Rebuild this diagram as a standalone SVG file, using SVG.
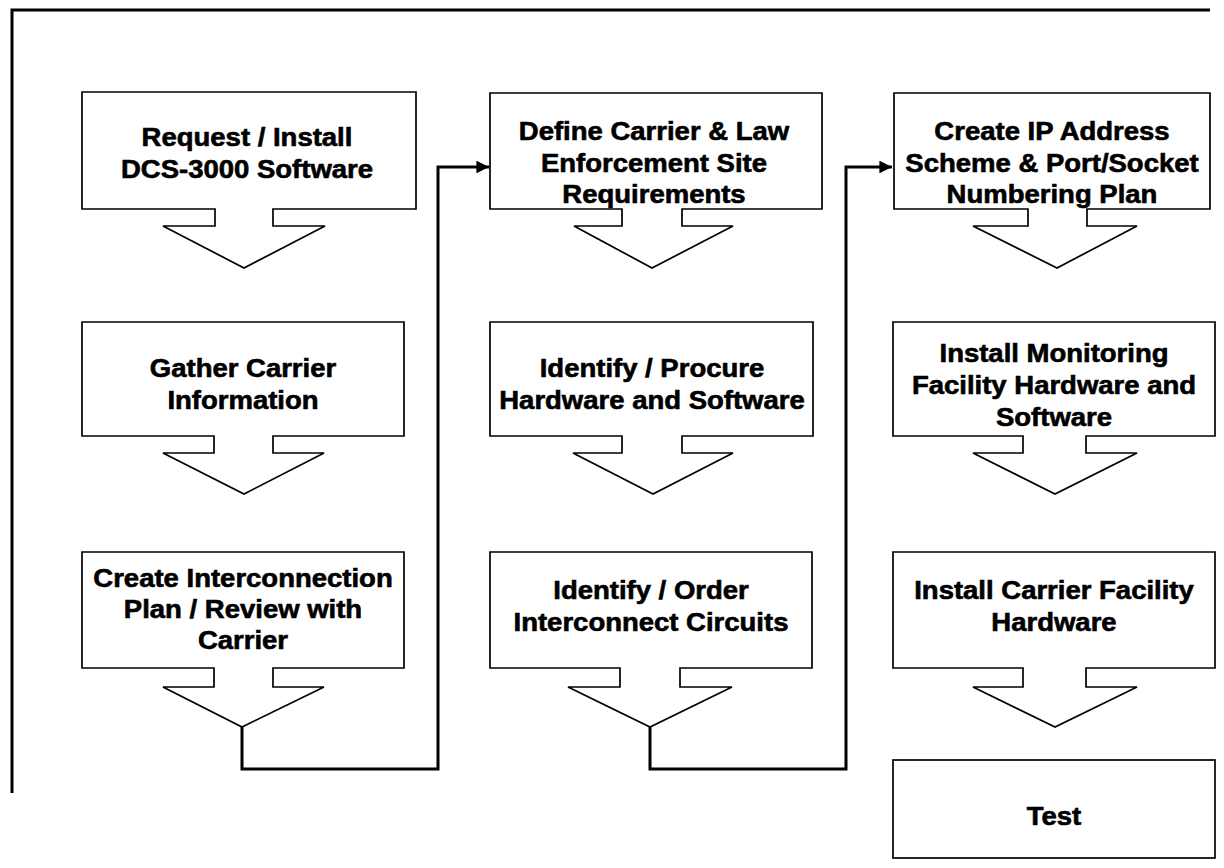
<svg xmlns="http://www.w3.org/2000/svg" width="1224" height="868" viewBox="0 0 1224 868">
  <style>
    .step { fill: #ffffff; stroke: #000000; stroke-width: 1.7; stroke-linejoin: miter; }
    .label { font-family: "Liberation Sans", Arial, sans-serif; font-weight: bold; font-size: 25px; fill: #000000; stroke: #000000; stroke-width: 0.6; text-anchor: middle; }
    .wire { fill: none; stroke: #000000; stroke-width: 3; stroke-linejoin: miter; }
  </style>
  <defs>
    <marker id="head" viewBox="0 0 10 10" refX="10" refY="5" markerWidth="4.8" markerHeight="4.2" orient="auto" markerUnits="strokeWidth">
      <path d="M0,0 L10,5 L0,10 Z" fill="#000000"/>
    </marker>
  </defs>
  <rect width="1224" height="868" fill="#ffffff"/>

  <!-- outer frame -->
  <path class="wire" d="M12,793 V10 H1210"/>

  <!-- column 1 -->
  <g id="request-install">
    <path class="step" d="M82,92 H416 V209 H273 V226 H325 L244,268 L163,226 H215 V209 H82 Z"/>
    <g transform="translate(247,0) scale(1.1,1)">
      <text class="label" x="0" y="146">Request / Install</text>
      <text class="label" x="0" y="178">DCS-3000 Software</text>
    </g>
  </g>
  <g id="gather-info">
    <path class="step" d="M82,322 H404 V436 H273 V453 H324 L244,494 L163,453 H214 V436 H82 Z"/>
    <g transform="translate(243,0) scale(1.1,1)">
      <text class="label" x="0" y="377">Gather Carrier</text>
      <text class="label" x="0" y="409">Information</text>
    </g>
  </g>
  <g id="interconnection-plan">
    <path class="step" d="M82,552 H404 V668 H273 V687 H324 L242,727 L163,687 H214 V668 H82 Z"/>
    <g transform="translate(243,0) scale(1.1,1)">
      <text class="label" x="0" y="587">Create Interconnection</text>
      <text class="label" x="0" y="618">Plan / Review with</text>
      <text class="label" x="0" y="649">Carrier</text>
    </g>
  </g>

  <!-- column 2 -->
  <g id="site-requirements">
    <path class="step" d="M490,93 H822 V209 H682 V226 H733 L652,268 L574,226 H622 V209 H490 Z"/>
    <g transform="translate(654,0) scale(1.1,1)">
      <text class="label" x="0" y="140">Define Carrier &amp; Law</text>
      <text class="label" x="0" y="172">Enforcement Site</text>
      <text class="label" x="0" y="203">Requirements</text>
    </g>
  </g>
  <g id="procure-hw-sw">
    <path class="step" d="M490,322 H813 V436 H682 V453 H733 L653,494 L573,453 H622 V436 H490 Z"/>
    <g transform="translate(652,0) scale(1.1,1)">
      <text class="label" x="0" y="377">Identify / Procure</text>
      <text class="label" x="0" y="409">Hardware and Software</text>
    </g>
  </g>
  <g id="order-circuits">
    <path class="step" d="M490,552 H812 V668 H680 V687 H732 L650,727 L568,687 H620 V668 H490 Z"/>
    <g transform="translate(651,0) scale(1.1,1)">
      <text class="label" x="0" y="599">Identify / Order</text>
      <text class="label" x="0" y="631">Interconnect Circuits</text>
    </g>
  </g>

  <!-- column 3 -->
  <g id="ip-scheme">
    <path class="step" d="M894,93 H1210 V209 H1087 V226 H1137 L1057,268 L973,226 H1028 V209 H894 Z"/>
    <g transform="translate(1052,0) scale(1.1,1)">
      <text class="label" x="0" y="140">Create IP Address</text>
      <text class="label" x="0" y="172">Scheme &amp; Port/Socket</text>
      <text class="label" x="0" y="203">Numbering Plan</text>
    </g>
  </g>
  <g id="monitoring-facility">
    <path class="step" d="M893,322 H1215 V436 H1086 V453 H1137 L1055,494 L973,453 H1023 V436 H893 Z"/>
    <g transform="translate(1054,0) scale(1.1,1)">
      <text class="label" x="0" y="362">Install Monitoring</text>
      <text class="label" x="0" y="394">Facility Hardware and</text>
      <text class="label" x="0" y="426">Software</text>
    </g>
  </g>
  <g id="carrier-facility">
    <path class="step" d="M893,552 H1215 V668 H1086 V687 H1137 L1055,727 L973,687 H1023 V668 H893 Z"/>
    <g transform="translate(1054,0) scale(1.1,1)">
      <text class="label" x="0" y="599">Install Carrier Facility</text>
      <text class="label" x="0" y="631">Hardware</text>
    </g>
  </g>
  <g id="test">
    <rect class="step" x="893" y="760" width="322" height="98"/>
    <g transform="translate(1054,0) scale(1.1,1)">
      <text class="label" x="0" y="825">Test</text>
    </g>
  </g>

  <!-- column-to-column links -->
  <g id="connectors">
    <path class="wire" d="M242,727 V769 H438 V167 H489" marker-end="url(#head)"/>
    <path class="wire" d="M650,727 V769 H846 V167 H892" marker-end="url(#head)"/>
  </g>
</svg>
